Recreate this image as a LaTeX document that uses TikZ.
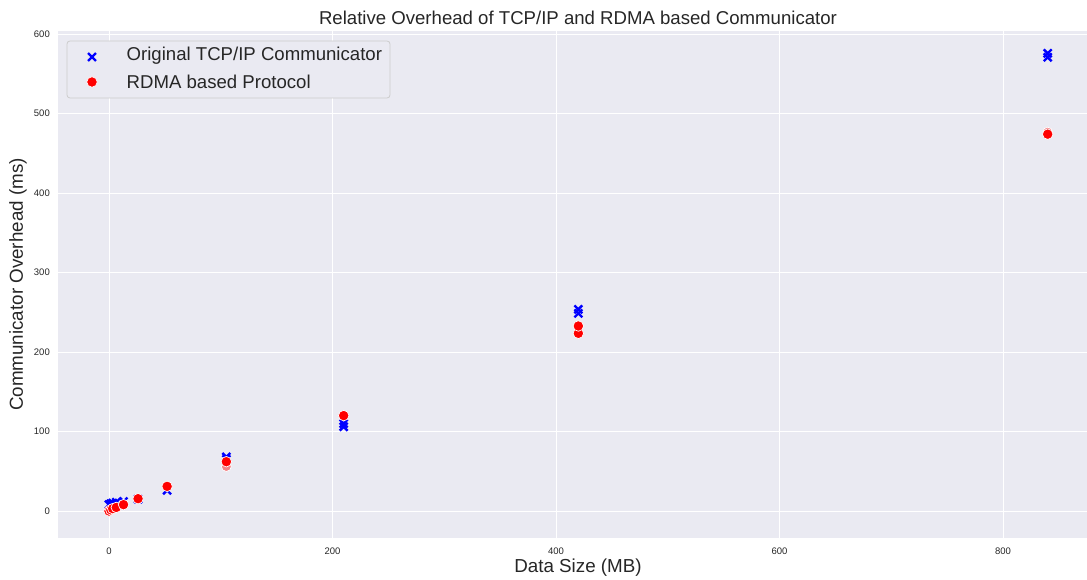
\documentclass[tikz,border=0pt]{standalone}
\usepackage{fontspec}
\setmainfont{Liberation Sans}
\usetikzlibrary{shapes.misc}
\definecolor{axbg}{HTML}{EAEAF2}
\definecolor{txt}{HTML}{262626}
\definecolor{legedge}{HTML}{CCCCCC}
\definecolor{tcpblue}{HTML}{0000FF}
\definecolor{rdmared}{HTML}{FF0000}
\tikzset{
  gridline/.style={draw=white, line width=0.9pt},
  ticklab/.style={text=txt, font=\fontsize{9.5}{11}\selectfont, inner sep=0pt},
  axlab/.style={text=txt, font=\fontsize{18.8}{22}\selectfont, inner sep=0pt},
  tcpmark/.style={cross out, draw=tcpblue, line width=2.4pt, minimum size=5.5pt, inner sep=0pt},
  rdmamark/.style={circle, fill=rdmared, draw=white, line width=0.7pt, minimum size=10.5pt, inner sep=0pt},
  fadedmark/.style={circle, fill=rdmared!45!axbg, draw=white, line width=0.7pt, minimum size=10pt, inner sep=0pt},
  legtext/.style={text=txt, font=\fontsize{18.6}{22}\selectfont, inner sep=0pt, anchor=west},
}
\begin{document}
\begin{tikzpicture}[x=1pt, y=-1pt]
\useasboundingbox (0,0) rectangle (1087,580);
% axes background
\fill[axbg] (58,31) rectangle (1087,538);
% grid
\foreach \yy in {511,431.5,352,272.5,193,113.5,34} \draw[gridline] (58,\yy) -- (1087,\yy);
\foreach \xx in {109,332.5,556,779.5,1003} \draw[gridline] (\xx,31) -- (\xx,538);
% y tick labels
\foreach \yy/\lab in {511/0,431.5/100,352/200,272.5/300,193/400,113.5/500,34/600}
  \node[ticklab, anchor=east] (yt\lab) at (50,\yy) {\lab};
% x tick labels
\foreach \xx/\lab in {109/0,332.5/200,556/400,779.5/600,1003/800}
  \node[ticklab] (xt\lab) at (\xx,551) {\lab};
% axis labels and title
\node[axlab] (xlabel) at (578,568) {Data Size (MB)};
\node[axlab, rotate=90] (ylabel) at (18,284.5) {Communicator Overhead (ms)};
\node[text=txt, font=\fontsize{18.6}{22}\selectfont, inner sep=0pt] (title) at (578,18) {Relative Overhead of TCP/IP and RDMA based Communicator};
% data
\begin{scope}[shift={(109,511)}, x=1.1175pt, y=0.795pt]
  \foreach \dx/\dy [count=\i] in {0/8,1.6/9,3.3/10,6.5/11,13/12,26/15,52/26,105/65,105/68,210/106,210/110,420/248.6,420/253.7,840/570.7,840/575.7}
    \node[tcpmark] (tcp\i) at (\dx,\dy) {};
  \node[fadedmark] (rf1) at (105,56) {};
  \node[fadedmark] (rf2) at (840,476.5) {};
  \foreach \dx/\dy [count=\i] in {0/0,1.6/1.5,3.3/3,6.5/4.5,13/8,26/15.5,52/31,105/62,210/120,420/223.5,420/232.7,840/474}
    \node[rdmamark] (rdma\i) at (\dx,\dy) {};
\end{scope}
% legend
\draw[legedge, fill=axbg, rounded corners=3pt, line width=0.8pt] (67,41) rectangle (390,98);
\node[tcpmark] (legtcp) at (92,57) {};
\node[rdmamark] (legrdma) at (92,82) {};
\node[legtext] (legtcptext) at (126.5,56) {Original TCP/IP Communicator};
\node[legtext] (legrdmatext) at (126.5,82) {RDMA based Protocol};
\end{tikzpicture}
\end{document}
